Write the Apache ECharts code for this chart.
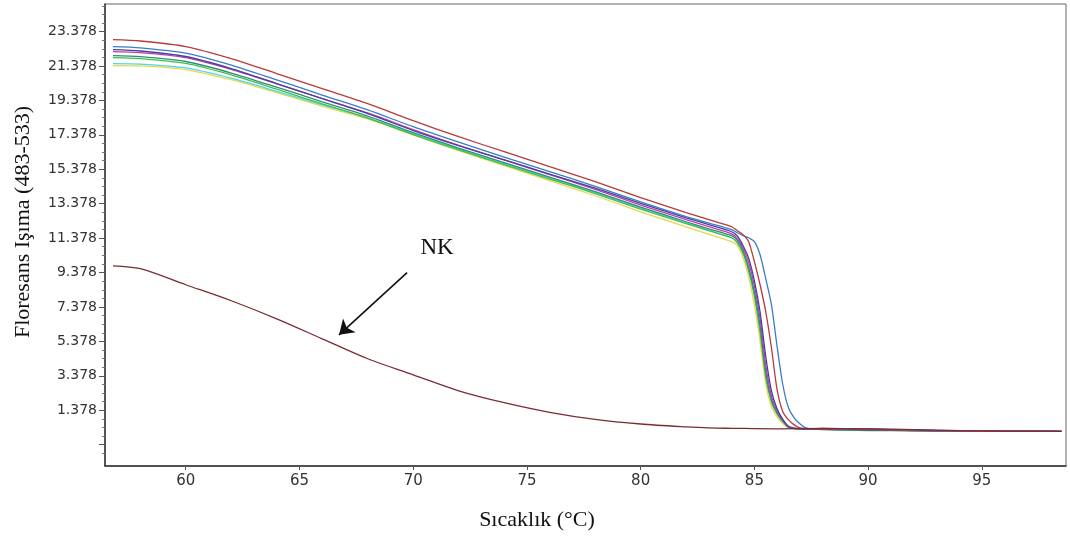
<!DOCTYPE html>
<html>
<head>
<meta charset="utf-8">
<title>Erime eğrisi</title>
<script src="https://cdn.jsdelivr.net/npm/echarts@6/dist/echarts.min.js"></script>
<style>
  html, body { margin: 0; padding: 0; background: #fff; }
  #chart { width: 1070px; height: 539px; }
</style>
</head>
<body>
<div id="chart"></div>
<script>
// temperatures (°C) shared by the sample curves
const temps = [56.8, 58, 60, 62, 64, 66, 68, 70, 72, 74, 76, 78, 80, 82, 83, 84,
  84.25, 84.5, 84.75, 85, 85.25, 85.5, 85.75, 86, 86.25, 86.5, 86.75, 87, 87.25, 87.5,
  88, 89, 90, 92, 94, 96, 98.5];

const red = [22.91, 22.83, 22.51, 21.81, 20.94, 20.06, 19.19, 18.20, 17.27, 16.40, 15.53, 14.66, 13.73, 12.86, 12.45, 12.04,
  11.81, 11.58, 11.17, 10.01, 8.67, 7.10, 5.01, 2.56, 1.29, 0.82, 0.53, 0.35, 0.32, 0.30,
  0.28, 0.30, 0.25, 0.22, 0.18, 0.17, 0.15];
const blue = [22.50, 22.43, 22.12, 21.43, 20.57, 19.69, 18.83, 17.85, 16.95, 16.09, 15.24, 14.39, 13.48, 12.63, 12.25, 11.87,
  11.69, 11.52, 11.40, 11.17, 10.41, 9.02, 7.51, 5.07, 2.86, 1.52, 0.94, 0.59, 0.35, 0.30,
  0.28, 0.25, 0.30, 0.20, 0.17, 0.18, 0.15];
const purple = [22.33, 22.25, 21.93, 21.23, 20.36, 19.48, 18.61, 17.63, 16.75, 15.93, 15.10, 14.28, 13.40, 12.56, 12.16, 11.75,
  11.50, 10.95, 10.20, 8.90, 7.10, 4.50, 2.50, 1.45, 0.85, 0.45, 0.34, 0.31, 0.30, 0.29,
  0.28, 0.27, 0.26, 0.22, 0.18, 0.16, 0.15];
const magenta = [22.21, 22.15, 21.86, 21.18, 20.34, 19.49, 18.65, 17.68, 16.77, 15.92, 15.07, 14.21, 13.30, 12.45, 12.04, 11.63,
  11.35, 10.80, 9.95, 8.60, 6.70, 4.00, 2.20, 1.35, 0.80, 0.42, 0.33, 0.31, 0.30, 0.29,
  0.32, 0.30, 0.27, 0.24, 0.19, 0.17, 0.15];
const teal = [21.98, 21.92, 21.64, 20.97, 20.15, 19.30, 18.47, 17.51, 16.61, 15.76, 14.92, 14.08, 13.18, 12.33, 11.92, 11.52,
  11.25, 10.65, 9.66, 8.26, 6.29, 3.61, 1.98, 1.23, 0.76, 0.41, 0.32, 0.30, 0.29, 0.28,
  0.26, 0.22, 0.20, 0.18, 0.16, 0.16, 0.15];
const green = [21.87, 21.81, 21.53, 20.86, 20.03, 19.18, 18.35, 17.39, 16.50, 15.65, 14.81, 13.97, 13.06, 12.22, 11.81, 11.40,
  11.10, 10.50, 9.45, 8.00, 5.90, 3.30, 1.85, 1.15, 0.70, 0.38, 0.31, 0.29, 0.28, 0.28,
  0.27, 0.24, 0.22, 0.19, 0.17, 0.16, 0.15];
const cyan = [21.52, 21.49, 21.27, 20.67, 19.91, 19.12, 18.36, 17.45, 16.55, 15.71, 14.87, 14.02, 13.12, 12.27, 11.83, 11.40,
  11.15, 10.60, 9.60, 8.20, 6.20, 3.50, 1.95, 1.20, 0.75, 0.40, 0.33, 0.31, 0.30, 0.30,
  0.29, 0.26, 0.28, 0.20, 0.17, 0.16, 0.15];
const yellow = [21.40, 21.38, 21.17, 20.58, 19.83, 19.05, 18.30, 17.38, 16.46, 15.59, 14.72, 13.84, 12.91, 12.03, 11.60, 11.17,
  10.95, 10.25, 9.10, 7.50, 5.40, 2.90, 1.60, 1.00, 0.60, 0.35, 0.31, 0.30, 0.29, 0.28,
  0.27, 0.25, 0.22, 0.20, 0.17, 0.16, 0.15];

// negative control
const nkTemps = [56.8, 58, 60, 62, 64, 66, 68, 70, 72, 74, 76, 78, 80, 82, 83, 84, 86, 88, 90, 92, 94, 96, 98.5];
const nk = [9.77, 9.60, 8.67, 7.74, 6.69, 5.53, 4.37, 3.44, 2.51, 1.82, 1.26, 0.85, 0.58, 0.41, 0.35, 0.33, 0.30, 0.32, 0.30, 0.25, 0.20, 0.17, 0.15];

// axis ticks
const xTicks = [60, 65, 70, 75, 80, 85, 90, 95];
const yLabels = [1.378, 3.378, 5.378, 7.378, 9.378, 11.378, 13.378, 15.378, 17.378, 19.378, 21.378, 23.378];
const yTicks = [-0.622].concat(yLabels);

// "NK" arrow, in data coordinates
const nkArrowFrom = [69.73, 9.37];
const nkArrowTo = [66.74, 5.76];
const nkTextAt = [71.05, 10.82];

const xMin = 56.45, xMax = 98.7;
const yMin = -1.86, yMax = 24.98;

// minor ticks every 0.5 between the labelled ones
const yMinor = [];
yTicks.forEach(function (t) {
  [0.5, 1, 1.5].forEach(function (d) {
    if (t + d < yMax) yMinor.push(+(t + d).toFixed(3));
  });
});
yMinor.push(-1.122);

const zip = (xs, ys) => xs.map((x, i) => [x, ys[i]]);

const curves = [
  { name: 'yellow', color: '#e6d84c', values: yellow },
  { name: 'cyan', color: '#4fd6e6', values: cyan },
  { name: 'green', color: '#3fbf4a', values: green },
  { name: 'teal', color: '#2f8f72', values: teal },
  { name: 'magenta', color: '#c23ab0', values: magenta },
  { name: 'purple', color: '#4a3f9e', values: purple },
  { name: 'blue', color: '#3c7cc6', values: blue },
  { name: 'red', color: '#b83a3a', values: red }
];

const chart = echarts.init(document.getElementById('chart'));

const tickText = { fontFamily: 'DejaVu Sans', color: '#333' };
const titleText = { fontFamily: 'Liberation Serif', fontSize: 22, color: '#111' };

const series = curves.map(c => ({
  name: c.name,
  type: 'line',
  showSymbol: false,
  smooth: 0.25,
  data: zip(temps, c.values),
  lineStyle: { color: c.color, width: 1.3 },
  itemStyle: { color: c.color }
}));

series.push({
  name: 'NK',
  type: 'line',
  showSymbol: false,
  smooth: 0.3,
  data: zip(nkTemps, nk),
  lineStyle: { color: '#7a2c34', width: 1.3 },
  itemStyle: { color: '#7a2c34' },
  markLine: {
    silent: true,
    symbol: ['none', 'arrow'],
    symbolSize: 14,
    label: { show: false },
    lineStyle: { color: '#111', width: 1.6, type: 'solid' },
    data: [[{ coord: nkArrowFrom }, { coord: nkArrowTo }]]
  },
  markPoint: {
    silent: true,
    symbol: 'circle',
    symbolSize: 0,
    label: {
      show: true,
      position: 'inside',
      formatter: 'NK',
      fontFamily: 'Liberation Serif',
      fontSize: 23,
      color: '#111'
    },
    data: [{ coord: nkTextAt }]
  }
});

const option = {
  animation: false,
  backgroundColor: '#fff',
  grid: {
    left: 105, right: 4, top: 4, bottom: 73,
    show: true, borderColor: '#666', borderWidth: 1
  },
  xAxis: {
    type: 'value',
    min: xMin,
    max: xMax,
    name: 'Sıcaklık (°C)',
    nameLocation: 'middle',
    nameGap: 43,
    nameTextStyle: Object.assign({ padding: [0, 97, 0, 0] }, titleText),
    axisLine: { show: true, onZero: false, lineStyle: { color: '#333', width: 1.5 } },
    axisTick: { show: true, customValues: xTicks, length: 4, lineStyle: { color: '#555' } },
    axisLabel: Object.assign({ customValues: xTicks, fontSize: 15, margin: 8 }, tickText),
    splitLine: { show: false }
  },
  yAxis: [
    {
      type: 'value',
      min: yMin,
      max: yMax,
      name: 'Floresans Işıma (483-533)',
      nameLocation: 'middle',
      nameGap: 71,
      nameTextStyle: Object.assign({ padding: [0, 0, 0, 26] }, titleText),
      axisLine: { show: true, lineStyle: { color: '#333', width: 1.5 } },
      axisTick: { show: true, customValues: yTicks, length: 6, lineStyle: { color: '#555' } },
      axisLabel: Object.assign({
        customValues: yLabels,
        fontSize: 14,
        margin: 8,
        formatter: v => v.toFixed(3)
      }, tickText),
      splitLine: { show: false }
    },
    {
      type: 'value',
      min: yMin,
      max: yMax,
      position: 'left',
      axisLine: { show: false },
      axisTick: { show: true, customValues: yMinor, length: 3, lineStyle: { color: '#777' } },
      axisLabel: { show: false },
      splitLine: { show: false }
    }
  ],
  series: series
};

chart.setOption(option);
</script>
</body>
</html>
